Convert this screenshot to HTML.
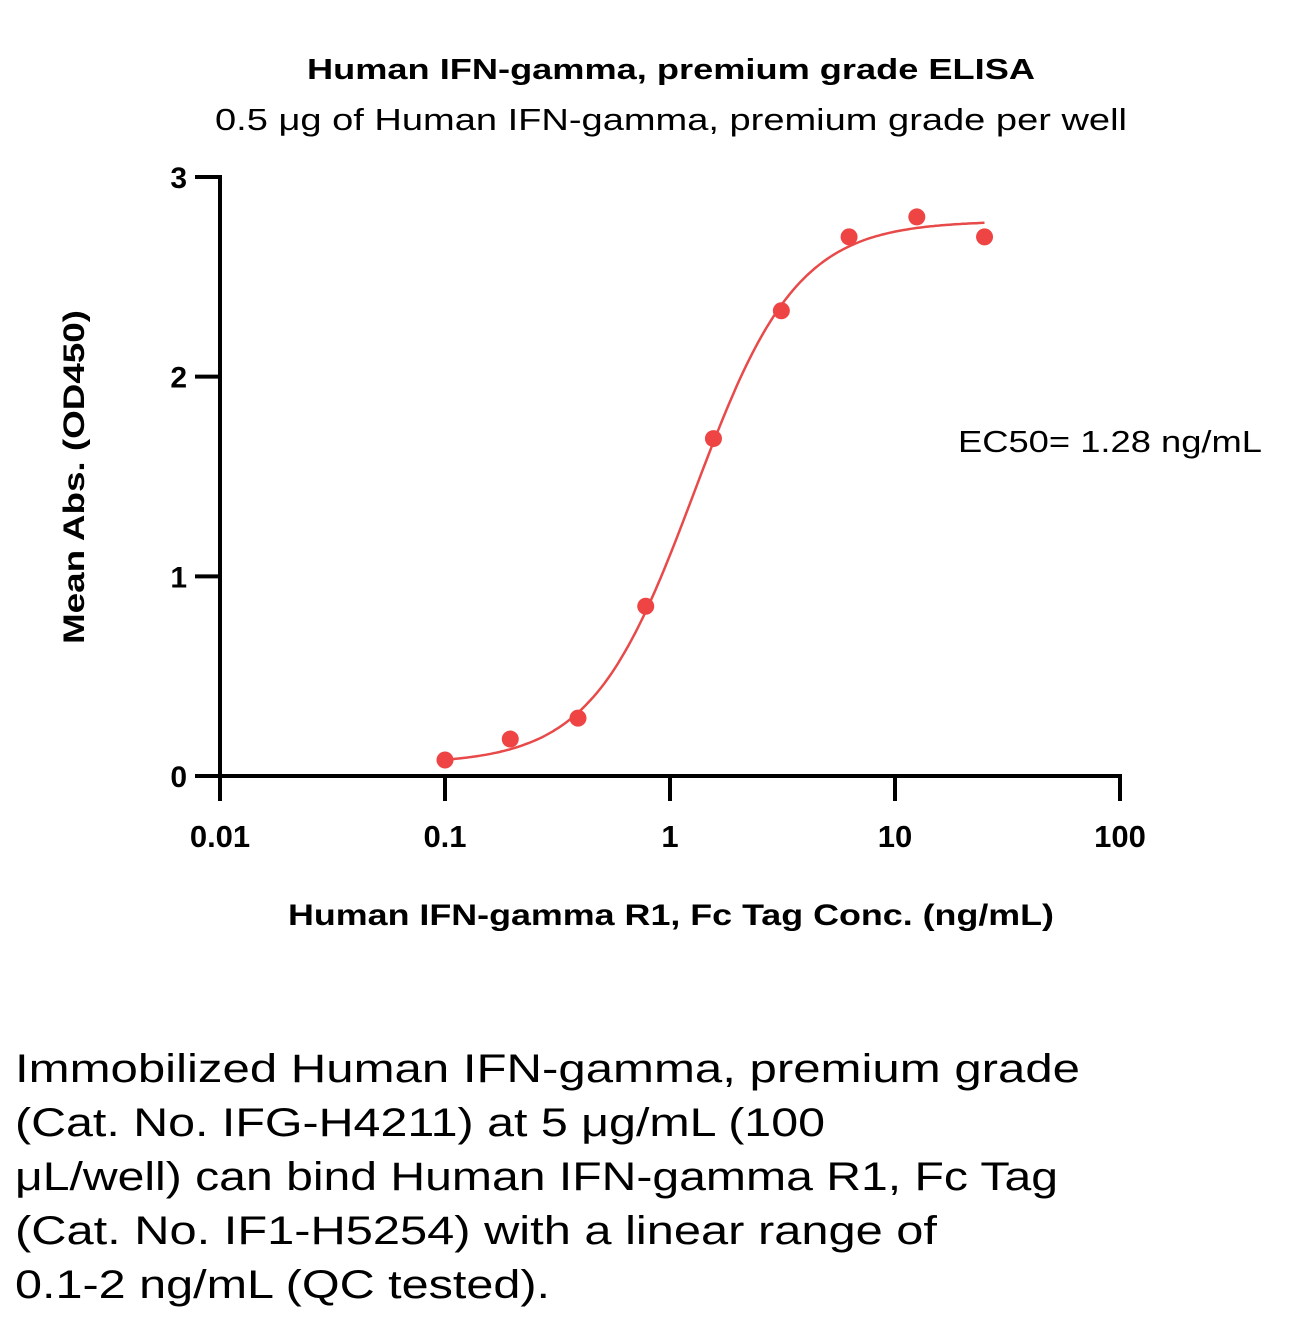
<!DOCTYPE html>
<html><head><meta charset="utf-8"><style>
html,body{margin:0;padding:0;background:#fff;}
svg{display:block;font-family:"Liberation Sans",sans-serif;}
</style></head><body>
<svg id="chart" width="1306" height="1322" viewBox="0 0 1306 1322">
<text x="671" y="79" font-size="29" font-weight="bold" text-anchor="middle" textLength="728" lengthAdjust="spacingAndGlyphs">Human IFN-gamma, premium grade ELISA</text>
<text x="671" y="130" font-size="31" text-anchor="middle" textLength="912" lengthAdjust="spacingAndGlyphs">0.5 μg of Human IFN-gamma, premium grade per well</text>
<g id="axes"></g>
<g id="curve"></g>
<g id="points"></g>
<text transform="translate(84,477) rotate(-90)" font-size="30" font-weight="bold" text-anchor="middle" textLength="334" lengthAdjust="spacingAndGlyphs">Mean Abs. (OD450)</text>
<text x="671" y="925" font-size="30" font-weight="bold" text-anchor="middle" textLength="766" lengthAdjust="spacingAndGlyphs">Human IFN-gamma R1, Fc Tag Conc. (ng/mL)</text>
<text x="958" y="452" font-size="31" textLength="304" lengthAdjust="spacingAndGlyphs">EC50= 1.28 ng/mL</text>
<g font-size="40">
<text x="15" y="1082" textLength="1065" lengthAdjust="spacingAndGlyphs">Immobilized Human IFN-gamma, premium grade</text>
<text x="15" y="1136" textLength="810" lengthAdjust="spacingAndGlyphs">(Cat. No. IFG-H4211) at 5 μg/mL (100</text>
<text x="15" y="1190" textLength="1043" lengthAdjust="spacingAndGlyphs">μL/well) can bind Human IFN-gamma R1, Fc Tag</text>
<text x="15" y="1244" textLength="922" lengthAdjust="spacingAndGlyphs">(Cat. No. IF1-H5254) with a linear range of</text>
<text x="15" y="1298" textLength="535" lengthAdjust="spacingAndGlyphs">0.1-2 ng/mL (QC tested).</text>
</g>
</svg>
<script>
const concentrations = [0.1, 0.195, 0.39, 0.78, 1.56, 3.125, 6.25, 12.5, 25];
const absorbances = [0.08, 0.185, 0.29, 0.85, 1.69, 2.33, 2.70, 2.80, 2.70];
const xTicks = [0.01, 0.1, 1, 10, 100];
const xTickLabels = ["0.01", "0.1", "1", "10", "100"];
const yTicks = [0, 1, 2, 3];
const yTickLabels = ["0", "1", "2", "3"];
const fitBottom = [0.06];
const fitTop = [2.78];
const fitEC50 = [1.28];
const fitHill = [1.9];

const NS = "http://www.w3.org/2000/svg";
const X0 = 220, X1 = 1120, Y0 = 776, Y1 = 177;
function xs(v){ return X0 + (Math.log10(v) - Math.log10(0.01)) / 4 * (X1 - X0); }
function ys(v){ return Y0 - v / 3 * (Y0 - Y1); }
function mk(tag, attrs, parent){ const e = document.createElementNS(NS, tag); for (const k in attrs) e.setAttribute(k, attrs[k]); parent.appendChild(e); return e; }

const axes = document.getElementById('axes');
let l = mk('line', {x1:X0, y1:Y1-2, x2:X0, y2:Y0+2, stroke:'#000', 'stroke-width':4}, axes);


l = mk('line', {x1:X0-2, y1:Y0, x2:X1+2, y2:Y0, stroke:'#000', 'stroke-width':4}, axes);


yTicks.forEach((v, i) => {
  const t = mk('line', {x1:X0-25, y1:ys(v), x2:X0, y2:ys(v), stroke:'#000', 'stroke-width':4}, axes);
  
  
  const tx = mk('text', {x:187, y:ys(v)+11, 'font-size':30, 'font-weight':'bold', 'text-anchor':'end'}, axes);
  tx.textContent = yTickLabels[i];
  
  
});
xTicks.forEach((v, i) => {
  const t = mk('line', {x1:xs(v), y1:Y0, x2:xs(v), y2:Y0+25, stroke:'#000', 'stroke-width':4}, axes);
  
  
  const tx = mk('text', {x:xs(v), y:847, 'font-size':31, 'font-weight':'bold', 'text-anchor':'middle'}, axes);
  tx.textContent = xTickLabels[i];
  
  
});

function fit(x){ return fitBottom[0] + (fitTop[0]-fitBottom[0]) / (1 + Math.pow(fitEC50[0]/x, fitHill[0])); }
let d = "";
const lo = Math.log10(concentrations[0]), hi = Math.log10(concentrations[concentrations.length-1]);
for (let i = 0; i <= 200; i++) {
  const x = Math.pow(10, lo + (hi-lo)*i/200);
  d += (i ? "L" : "M") + xs(x).toFixed(1) + "," + ys(fit(x)).toFixed(1);
}
const path = mk('path', {d:d, fill:'none', stroke:'#e84a4a', 'stroke-width':2.5}, document.getElementById('curve'));



const pts = document.getElementById('points');
concentrations.forEach((c, i) => {
  const p = mk('circle', {cx:xs(c), cy:ys(absorbances[i]), r:8.5, fill:'#ee4444'}, pts);
  
  
});
</script>
</body></html>
